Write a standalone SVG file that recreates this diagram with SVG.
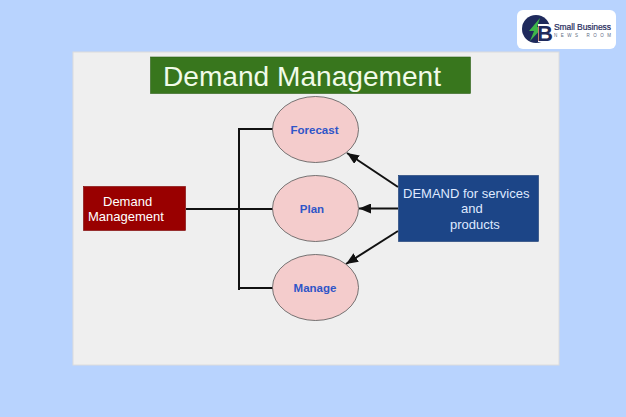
<svg xmlns="http://www.w3.org/2000/svg" width="626" height="417" viewBox="0 0 626 417">
<style>
text{font-family:"Liberation Sans",Arial,sans-serif}
.c{stroke:#111;stroke-width:2;fill:none}
.e{fill:#f4cccc;stroke:#555;stroke-width:.8}
.l{fill:#2f55c8;font-size:11.500px;font-weight:700;text-anchor:middle}
.w{fill:#fff;font-size:13px}
.b{fill:#dfe9ff;font-size:13px}
</style>
<defs><marker id="a" markerUnits="userSpaceOnUse" markerWidth="13" markerHeight="10" refX="12" refY="5" orient="auto"><path d="M0 0L12 5L0 10z" fill="#111"/></marker></defs>
<rect width="626" height="417" fill="#b8d3fe"/>
<rect x="73" y="52" width="486" height="313" fill="#efefef" stroke="#dcdcdc"/>
<g id="title"><rect x="150.500" y="57" width="320" height="36.500" fill="#38761d" stroke="#2c5f18" stroke-width=".6"/><text x="163" y="86" font-size="28.100" fill="#f1fbe9">Demand Management</text></g>
<g id="connectors">
<path class="c" d="M239 128V290M239 129H273M186 209H273M239 288H273"/>
<path class="c" d="M398 187L347 153" marker-end="url(#a)"/>
<path class="c" d="M398 208.500H359" marker-end="url(#a)"/>
<path class="c" d="M398 231L346 264" marker-end="url(#a)"/>
</g>
<g id="source"><rect x="83.500" y="186.500" width="102" height="44" fill="#990000" stroke="#7a0000" stroke-width=".6"/><text class="w" x="103" y="206">Demand</text><text class="w" x="88" y="221">Management</text></g>
<g id="forecast"><ellipse class="e" cx="315.500" cy="129.500" rx="43" ry="33"/><text class="l" x="314.500" y="134">Forecast</text></g>
<g id="plan"><ellipse class="e" cx="315.500" cy="208.500" rx="43" ry="33"/><text class="l" x="312" y="213">Plan</text></g>
<g id="manage"><ellipse class="e" cx="315.500" cy="287.500" rx="43" ry="33"/><text class="l" x="315" y="292">Manage</text></g>
<g id="demand"><rect x="398.500" y="175.500" width="140" height="66" fill="#1c4587" stroke="#163a70" stroke-width=".6"/><text class="b" x="403" y="198">DEMAND for services</text><text class="b" x="461" y="213">and</text><text class="b" x="450" y="229">products</text></g>
<g id="logo"><rect x="517" y="10" width="99" height="39" rx="6" fill="#fff"/><circle cx="536" cy="29" r="14" fill="#1f2a5c"/><path d="M540 18L529 31H534L530 41L543 27H537z" fill="#3fb54a"/><path d="M538 24h9q6 0 6 5 0 3-2 4 3 1 3 4 0 5-7 5h-9z" fill="#fff"/><text x="537" y="41" font-size="22" font-weight="700" fill="#1f2a5c">B</text><text x="554" y="30" font-size="8.500" fill="#1f2a5c" stroke="#1f2a5c" stroke-width=".2" textLength="57">Small Business</text><text x="554" y="37" font-size="4.500" fill="#5a6a80" textLength="57">NEWS ROOM</text></g>
</svg>
